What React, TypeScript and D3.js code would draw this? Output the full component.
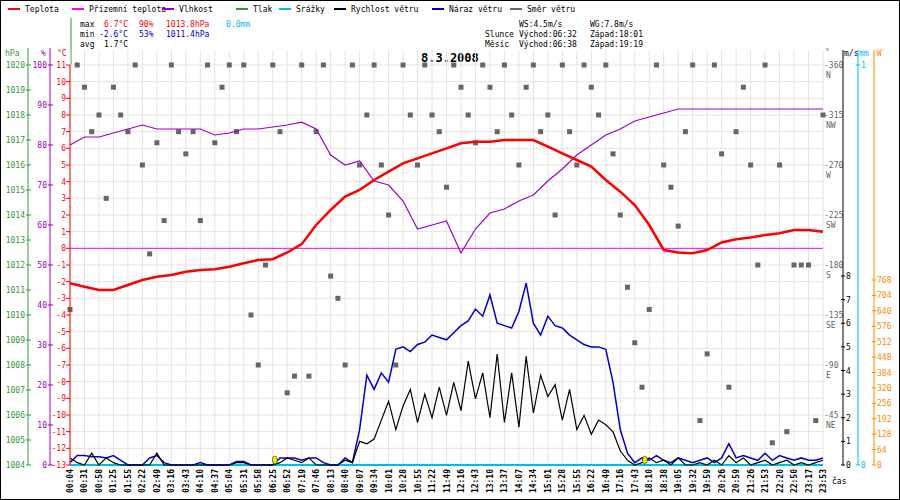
import * as d3 from "d3";

const timeLabels = ["00:04","00:31","00:58","01:25","01:55","02:22","02:49","03:16","03:43","04:10","04:37","05:04","05:31","05:58","06:25","06:52","07:19","07:46","08:13","08:40","09:07","09:34","10:01","10:28","10:55","11:22","11:49","12:16","12:43","13:10","13:37","14:07","14:34","15:01","15:28","15:55","16:22","16:49","17:16","17:43","18:10","18:38","19:05","19:32","19:59","20:26","20:59","21:26","21:53","22:20","22:50","23:17","23:53"];

const temperature = [-2.1,-2.3,-2.5,-2.5,-2.2,-1.9,-1.7,-1.6,-1.4,-1.3,-1.25,-1.1,-0.9,-0.7,-0.65,-0.25,0.25,1.4,2.3,3.1,3.5,4.1,4.6,5.1,5.4,5.7,6.0,6.3,6.4,6.4,6.5,6.5,6.5,6.1,5.7,5.3,4.9,4.1,3.4,2.6,1.4,-0.1,-0.25,-0.3,-0.1,0.35,0.55,0.65,0.8,0.9,1.1,1.1,1.0];

const humidity = [80,82,82,83,84,85,84,84,84,84,82.5,83,84,84,84.5,85,85.7,84,77.5,75,76,71,70,66,59,60,61,53,59,63,64,66,67.5,71,74,77.5,80,82.5,84,86,87,88,89,89,89,89,89,89,89,89,89,89,89];

// wind values at half-step of the time labels
const gust = [0.1,0.4,0.4,0.35,0.35,0.3,0.4,0.2,0,0,0,
  0.3,0.4,0.1,0,0,0,0,0.1,0,0,
  0,0,0.15,0.15,0,0,0,0,0.3,0.3,
  0.3,0.2,0.3,0.3,0.1,0,0,0.3,0.1,1.5,
  3.8,3.2,3.9,3.5,4.9,5.0,4.8,5.1,5.2,5.5,
  5.4,5.3,5.6,5.9,6.1,6.6,6.3,7.2,6.0,5.9,
  5.8,6.5,7.7,6.0,5.5,6.3,5.9,5.8,5.5,5.3,
  5.1,5.0,5.0,4.9,3.5,1.5,0.5,0.1,0.3,0.2,
  0.4,0.2,0.1,0.3,0.2,0.1,0.2,0.3,0.1,0.3,
  0.9,0.3,0.4,0.3,0.2,0.5,0.2,0.4,0.3,0.2,
  0.3,0.2,0.2,0.3];

const speed = [0.3,0.1,0,0.5,0,0.3,0.1,0,0,0,0,
  0,0.5,0,0,0,0,0,0,0,0,
  0,0,0.1,0.1,0,0,0,0,0.1,0.3,
  0.2,0.1,0.3,0,0,0,0,0.2,0.1,1.0,
  0.9,1.1,1.9,2.7,1.5,2.5,3.2,1.8,3.0,2.0,
  3.3,2.1,3.5,2.3,4.4,2.8,3.9,2.0,4.7,1.8,
  3.9,1.6,4.6,2.2,3.8,2.9,3.4,1.9,3.2,1.5,
  2.1,1.3,1.9,1.7,1.4,0.6,0.2,0,0.1,0.3,
  0.1,0.2,0,0.3,0,0,0.1,0,0.2,0,
  0.4,0.1,0.3,0,0.1,0.2,0,0.1,0.2,0,
  0.1,0,0.1,0.2];

const direction = [140,360,340,300,315,240,340,315,300,360,270,190,290,220,360,300,280,300,220,360,290,340,360,300,360,135,90,180,360,300,65,80,360,80,300,360,170,150,90,360,270,315,360,270,225,90,360,315,270,360,315,300,250,360,340,315,290,360,340,300,360,315,270,340,360,300,315,225,360,300,270,360,340,315,360,280,225,160,110,70,140,360,270,250,215,300,360,40,100,360,280,70,300,340,270,180,360,20,270,30,180,180,180,40,315];

// yellow marks (label index position)
const sunMarks = [14.15, 39.7];

const hpaTicks = d3.range(1004, 1021);
const pctTicks = d3.range(0, 101, 10);
const tempTicks = d3.range(-13, 12);
const dirTicks = [[360,"N"],[315,"NW"],[270,"W"],[225,"SW"],[180,"S"],[135,"SE"],[90,"E"],[45,"NE"]] as [number,string][];
const msTicks = d3.range(0, 9);
const wTicks = d3.range(0, 769, 64);

const legend = [
  { name: "Teplota", color: "#ff0000", x: 8 },
  { name: "Přízemní teplota", color: "#ff00ff", x: 72 },
  { name: "Vlhkost", color: "#9900cc", x: 162 },
  { name: "Tlak", color: "#339933", x: 236 },
  { name: "Srážky", color: "#00bbee", x: 279 },
  { name: "Rychlost větru", color: "#000000", x: 334 },
  { name: "Náraz větru", color: "#0000cc", x: 432 },
  { name: "Směr větru", color: "#666666", x: 510 },
];

const F = "'DejaVu Sans Mono', monospace";

export default function App() {
  const top = 65, bottom = 465, left = 70, right = 823;
  const xi = d3.scaleLinear().domain([0, timeLabels.length - 1]).range([left, right]);
  const yT = d3.scaleLinear().domain([-13, 11]).range([bottom, top]);
  const yP = d3.scaleLinear().domain([1004, 1020]).range([bottom, top]);
  const yH = d3.scaleLinear().domain([0, 100]).range([bottom, top]);
  const yD = d3.scaleLinear().domain([0, 360]).range([bottom, top]);
  const yS = d3.scaleLinear().domain([0, 8]).range([bottom, 276]);
  const yW = d3.scaleLinear().domain([0, 768]).range([bottom, 280]);

  const lineT = d3.line<number>().x((_, i) => xi(i)).y((d) => yT(d));
  const lineH = d3.line<number>().x((_, i) => xi(i)).y((d) => yH(d));
  const lineS = d3.line<number>().x((_, i) => xi(i / 2)).y((d) => yS(d));

  return (
    <svg width={900} height={500} style={{ position: "absolute", left: 0, top: 0 }} fontFamily={F} fontSize={8}>
      <rect x={0.5} y={0.5} width={899} height={499} fill="#fff" stroke="#000" />
      {legend.map((l) => (
        <g key={l.name}>
          <line x1={l.x} x2={l.x + 12} y1={9} y2={9} stroke={l.color} strokeWidth={2} />
          <text x={l.x + 17} y={12}>{l.name}</text>
        </g>
      ))}
      <line x1={71} x2={71} y1={18} y2={top} stroke="#339933" />
      <text y={27}>
        <tspan x={80}>max</tspan><tspan x={104} fill="#ff0000">6.7°C</tspan>
        <tspan x={139} fill="#ff0000">90%</tspan><tspan x={166} fill="#ff0000">1013.8hPa</tspan>
        <tspan x={226} fill="#00bbee">0.0mm</tspan>
      </text>
      <text y={37}>
        <tspan x={80}>min</tspan><tspan x={99} fill="#0000cc">-2.6°C</tspan>
        <tspan x={139} fill="#0000cc">53%</tspan><tspan x={166} fill="#0000cc">1011.4hPa</tspan>
      </text>
      <text y={47}><tspan x={80}>avg</tspan><tspan x={104}>1.7°C</tspan></text>
      <text y={27}><tspan x={519}>WS:4.5m/s</tspan><tspan x={590}>WG:7.8m/s</tspan></text>
      <text y={37}><tspan x={485}>Slunce</tspan><tspan x={519}>Východ:06:32</tspan><tspan x={590}>Západ:18:01</tspan></text>
      <text y={47}><tspan x={485}>Měsíc</tspan><tspan x={519}>Východ:06:38</tspan><tspan x={590}>Západ:19:19</tspan></text>
      <text x={421} y={62} fontSize={12} fontWeight="bold">8.3.2008</text>

      {/* grid */}
      {tempTicks.map((t) => (
        <line key={t} x1={left} x2={right} y1={yT(t)} y2={yT(t)} stroke="#e8e2e2" />
      ))}
      {timeLabels.map((_, i) => (
        <line key={i} x1={xi(i)} x2={xi(i)} y1={50} y2={bottom} stroke="#e8e2e2" />
      ))}
      <line x1={left} x2={right} y1={yT(0)} y2={yT(0)} stroke="#ff00ff" />

      {/* direction squares */}
      {direction.map((d, k) => (
        <rect key={k} x={xi(k / 2) - 2.5} y={yD(d) - 2.5} width={5} height={5} fill="#666" />
      ))}

      <line x1={left} x2={right} y1={bottom} y2={bottom} stroke="#00bbee" strokeWidth={2} />
      <path d={lineS(gust) ?? ""} fill="none" stroke="#0000cc" strokeWidth={1.5} />
      <path d={lineS(speed) ?? ""} fill="none" stroke="#000" strokeWidth={1.2} />
      <path d={lineH(humidity) ?? ""} fill="none" stroke="#9900cc" strokeWidth={1.2} />
      <path d={lineT(temperature) ?? ""} fill="none" stroke="#ff0000" strokeWidth={2.5} />
      {sunMarks.map((m) => (
        <ellipse key={m} cx={xi(m)} cy={bottom - 5} rx={2.5} ry={4} fill="#eeee00" stroke="#000" strokeWidth={0.5} />
      ))}

      {/* left axes */}
      <text x={5} y={56} fill="#339933">hPa</text>
      <text x={41} y={56} fill="#9900cc">%</text>
      <text x={57} y={56} fill="#ff0000">°C</text>
      <line x1={28} x2={28} y1={48} y2={bottom} stroke="#339933" />
      <line x1={50} x2={50} y1={48} y2={bottom} stroke="#9900cc" />
      <line x1={70} x2={70} y1={top} y2={bottom} stroke="#ff0000" />
      {hpaTicks.map((t) => (
        <g key={t} fill="#339933">
          <line x1={26} x2={31} y1={yP(t)} y2={yP(t)} stroke="#339933" />
          <text x={25} y={yP(t) + 3} textAnchor="end">{t}</text>
        </g>
      ))}
      {pctTicks.map((t) => (
        <g key={t} fill="#9900cc">
          <line x1={48} x2={53} y1={yH(t)} y2={yH(t)} stroke="#9900cc" />
          <text x={47} y={yH(t) + 3} textAnchor="end">{t}</text>
        </g>
      ))}
      {tempTicks.map((t) => (
        <g key={t} fill="#ff0000">
          <line x1={66} x2={70} y1={yT(t)} y2={yT(t)} stroke="#ff0000" />
          <text x={66} y={yT(t) + 3} textAnchor="end">{t}</text>
        </g>
      ))}

      {/* right axes */}
      <text x={825} y={55} fill="#666">°</text>
      {dirTicks.map(([v, n]) => (
        <g key={v} fill="#666">
          <text x={824} y={yD(v) + 3}>{"-" + v}</text>
          <text x={826} y={yD(v) + 13}>{n}</text>
        </g>
      ))}
      <text x={844} y={56}>m/s</text>
      <line x1={843} x2={843} y1={50} y2={bottom} stroke="#000" />
      {msTicks.map((t) => (
        <g key={t}>
          <line x1={841} x2={845} y1={yS(t)} y2={yS(t)} stroke="#000" />
          <text x={846} y={yS(t) + 3}>{t}</text>
        </g>
      ))}
      <text x={859} y={56} fill="#00bbee">mm</text>
      <line x1={858} x2={858} y1={50} y2={bottom} stroke="#00bbee" />
      {[0, 1].map((t) => (
        <g key={t} fill="#00bbee">
          <line x1={856} x2={860} y1={t ? top : bottom} y2={t ? top : bottom} stroke="#00bbee" />
          <text x={861} y={(t ? top : bottom) + 3}>{t}</text>
        </g>
      ))}
      <text x={877} y={56} fill="#ff8800">W</text>
      <line x1={874} x2={874} y1={50} y2={bottom} stroke="#ff8800" />
      {wTicks.map((t) => (
        <g key={t} fill="#ff8800">
          <line x1={872} x2={876} y1={yW(t)} y2={yW(t)} stroke="#ff8800" />
          <text x={877} y={yW(t) + 3}>{t}</text>
        </g>
      ))}
      <text x={832} y={484}>čas</text>

      {timeLabels.map((l, i) => (
        <text key={l} transform={`translate(${xi(i) + 3},469) rotate(-90)`} textAnchor="end" fontSize={8} fontWeight="bold">{l}</text>
      ))}
    </svg>
  );
}
